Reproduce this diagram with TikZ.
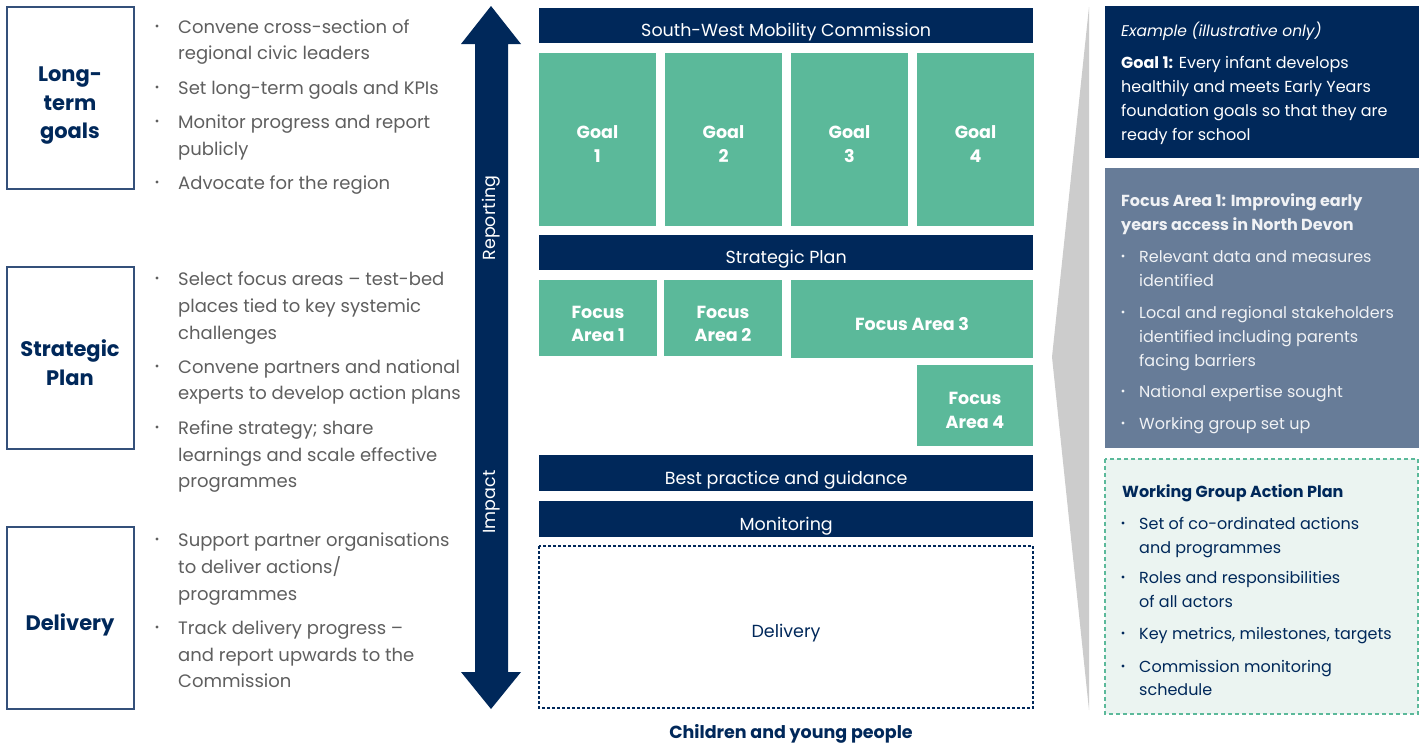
\documentclass[tikz,border=0pt]{standalone}
\usepackage{fontspec}
\setmainfont{Poppins}
\definecolor{navy}{HTML}{00285A}
\definecolor{green}{HTML}{5BB99A}
\definecolor{slate}{HTML}{677C98}
\definecolor{greytext}{HTML}{5F5F5F}
\definecolor{mint}{HTML}{EBF4F1}
\definecolor{wedge}{HTML}{CCCCCC}
\definecolor{boxline}{HTML}{34507A}
\definecolor{paletext}{HTML}{F0F2F5}
\newcommand\tline[4][]{\node[anchor=base west,inner sep=0,#1] (#2) at #3 {#4};}
\newcommand\ctline[4][]{\node[anchor=base,inner sep=0,#1] (#2) at #3 {#4};}
\begin{document}
\begin{tikzpicture}[x=1pt,y=-1pt,
  lefttxt/.style={font=\fontsize{18}{24}\selectfont,text=greytext},
  bul/.style={circle,inner sep=0,minimum size=3.4pt},
  headtxt/.style={font=\bfseries\fontsize{21}{24}\selectfont,text=navy},
  leftbox/.style={draw=boxline,line width=1.3pt},
  barbox/.style={fill=navy,text=white,font=\fontsize{17.5}{20}\selectfont,inner sep=0,anchor=north west,text height=22pt,text depth=0pt},
  greentxt/.style={text=white,font=\bfseries\fontsize{17.5}{20}\selectfont},
  righttxt/.style={font=\fontsize{16}{20}\selectfont,text=white},
  slatetxt/.style={font=\fontsize{16}{20}\selectfont,text=paletext},
  mintxt/.style={font=\fontsize{16}{20}\selectfont,text=navy}
]
\useasboundingbox (0,0) rectangle (1426,744);
\fill[white] (0,0) rectangle (1426,744);

% ---------- left boxes
\draw[leftbox] (7,7) rectangle (134,189);
\draw[leftbox] (7,267) rectangle (134,449);
\draw[leftbox] (7,527) rectangle (134,709);
\ctline[headtxt]{h1a}{(70,81)}{Long-}
\ctline[headtxt]{h1b}{(70,110)}{term}
\ctline[headtxt]{h1c}{(70,138)}{goals}
\ctline[headtxt]{h2a}{(70,356)}{Strategic}
\ctline[headtxt]{h2b}{(70,385)}{Plan}
\ctline[headtxt]{h3a}{(70,630)}{Delivery}

% ---------- left bullets
\foreach \y [count=\i] in {33,94,128,189,285,373,434,546,634}
  \node[bul,fill=greytext] (lb\i) at (157,\y-7) {};
\tline[lefttxt]{l1}{(178,33)}{Convene cross-section of}
\tline[lefttxt]{l2}{(178,59)}{regional civic leaders}
\tline[lefttxt]{l3}{(178,94)}{Set long-term goals and KPIs}
\tline[lefttxt]{l4}{(178,128)}{Monitor progress and report}
\tline[lefttxt]{l5}{(178,155)}{publicly}
\tline[lefttxt]{l6}{(178,189)}{Advocate for the region}
\tline[lefttxt]{l7}{(178,285)}{Select focus areas – test-bed}
\tline[lefttxt]{l8}{(178,312)}{places tied to key systemic}
\tline[lefttxt]{l9}{(178,339)}{challenges}
\tline[lefttxt]{l10}{(178,373)}{Convene partners and national}
\tline[lefttxt]{l11}{(178,399)}{experts to develop action plans}
\tline[lefttxt]{l12}{(178,434)}{Refine strategy; share}
\tline[lefttxt]{l13}{(178,461)}{learnings and scale effective}
\tline[lefttxt]{l14}{(178,487)}{programmes}
\tline[lefttxt]{l15}{(178,546)}{Support partner organisations}
\tline[lefttxt]{l16}{(178,573)}{to deliver actions/}
\tline[lefttxt]{l17}{(178,600)}{programmes}
\tline[lefttxt]{l18}{(178,634)}{Track delivery progress –}
\tline[lefttxt]{l19}{(178,661)}{and report upwards to the}
\tline[lefttxt]{l20}{(178,687)}{Commission}

% ---------- double arrow
\fill[navy] (491,6) -- (521,44) -- (508,44) -- (508,672) -- (521,672) -- (491,709)
  -- (461,672) -- (475,672) -- (475,44) -- (461,44) -- cycle;
\node[rotate=90,text=white,font=\fontsize{17.5}{20}\selectfont,inner sep=0] (rep) at (491.5,218) {Reporting};
\node[rotate=90,text=white,font=\fontsize{17.5}{20}\selectfont,inner sep=0] (imp) at (491.5,502) {Impact};

% ---------- centre column
\node[barbox,minimum width=494pt,minimum height=35pt] (swmc) at (539,8) {South-West Mobility Commission};
\foreach \x [count=\i] in {539,665,791,917}{
  \fill[green] (\x,53) rectangle (\x+117,226);
  \ctline[greentxt]{g\i a}{(\x+58.5,138)}{Goal}
  \ctline[greentxt]{g\i b}{(\x+58.5,162)}{\i}
}
\node[barbox,minimum width=494pt,minimum height=35pt] (sp) at (539,235) {Strategic Plan};
\fill[green] (539,280) rectangle (657,356);
\fill[green] (664,280) rectangle (782,356);
\fill[green] (791,280) rectangle (1033,358);
\fill[green] (917,365) rectangle (1033,446);
\ctline[greentxt]{fa1a}{(598,318)}{Focus}
\ctline[greentxt]{fa1b}{(598,341)}{Area 1}
\ctline[greentxt]{fa2a}{(723,318)}{Focus}
\ctline[greentxt]{fa2b}{(723,341)}{Area 2}
\ctline[greentxt]{fa3}{(912,330)}{Focus Area 3}
\ctline[greentxt]{fa4a}{(975,404)}{Focus}
\ctline[greentxt]{fa4b}{(975,428)}{Area 4}
\node[barbox,minimum width=494pt,minimum height=36pt] (bp) at (539,455) {Best practice and guidance};
\node[barbox,minimum width=494pt,minimum height=36pt] (mon) at (539,501) {Monitoring};
\draw[navy,line width=1.2pt,dash pattern=on 3pt off 2pt] (539,546) rectangle (1033,708);
\ctline[text=navy,font=\fontsize{17.5}{20}\selectfont]{del}{(786,637)}{Delivery}
\ctline[text=navy,font=\bfseries\fontsize{17.5}{20}\selectfont]{cyp}{(791,738)}{Children and young people}

% ---------- right panel
\fill[wedge] (1089,7) -- (1052,357) -- (1089,710) -- cycle;
\fill[navy] (1105,6) rectangle (1419,158);
\tline[righttxt,font=\itshape\fontsize{15.5}{20}\selectfont]{ex}{(1121,36)}{Example (illustrative only)}
\tline[righttxt]{e1}{(1121,68)}{\textbf{Goal 1:} Every infant develops}
\tline[righttxt]{e2}{(1121,92)}{healthily and meets Early Years}
\tline[righttxt]{e3}{(1121,116)}{foundation goals so that they are}
\tline[righttxt]{e4}{(1121,140)}{ready for school}

\fill[slate] (1105,168) rectangle (1419,448);
\tline[slatetxt,font=\bfseries\fontsize{16}{20}\selectfont]{f0a}{(1121,206)}{Focus Area 1: Improving early}
\tline[slatetxt,font=\bfseries\fontsize{16}{20}\selectfont]{f0b}{(1121,230)}{years access in North Devon}
\foreach \y [count=\i] in {262,318,397,429}
  \node[bul,fill=paletext] (sb\i) at (1123,\y-6) {};
\tline[slatetxt]{f1}{(1139,262)}{Relevant data and measures}
\tline[slatetxt]{f2}{(1139,286)}{identified}
\tline[slatetxt]{f3}{(1139,318)}{Local and regional stakeholders}
\tline[slatetxt]{f4}{(1139,342)}{identified including parents}
\tline[slatetxt]{f5}{(1139,366)}{facing barriers}
\tline[slatetxt]{f6}{(1139,397)}{National expertise sought}
\tline[slatetxt]{f7}{(1139,429)}{Working group set up}

\draw[green,fill=mint,line width=1.5pt,dash pattern=on 4pt off 3pt] (1105,459) rectangle (1418,714);
\tline[mintxt,font=\bfseries\fontsize{16}{20}\selectfont]{w0}{(1122,497)}{Working Group Action Plan}
\foreach \y [count=\i] in {529,583,639,672}
  \node[bul,fill=navy] (wb\i) at (1123,\y-6) {};
\tline[mintxt]{w1}{(1139,529)}{Set of co-ordinated actions}
\tline[mintxt]{w2}{(1139,553)}{and programmes}
\tline[mintxt]{w3}{(1139,583)}{Roles and responsibilities}
\tline[mintxt]{w4}{(1139,607)}{of all actors}
\tline[mintxt]{w5}{(1139,639)}{Key metrics, milestones, targets}
\tline[mintxt]{w6}{(1139,672)}{Commission monitoring}
\tline[mintxt]{w7}{(1139,695)}{schedule}
\end{tikzpicture}
\end{document}
